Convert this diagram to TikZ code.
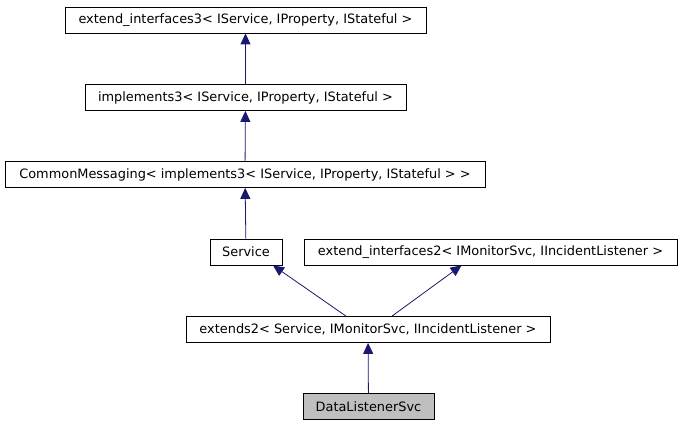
\documentclass[tikz,border=0pt]{standalone}
\usepackage{fontspec}
\setmainfont{DejaVu Sans}
\usetikzlibrary{calc}
\usetikzlibrary{arrows.meta}

\tikzset{
  cls/.style={draw=black, line width=0.8pt, minimum height=26pt, inner sep=0pt, font=\fontsize{12.9}{15}\selectfont},
  edge/.style={draw={rgb,255:red,25;green,25;blue,112}, line width=0.8pt, -{Triangle[length=11pt,width=10pt]}}
}

\begin{document}
\begin{tikzpicture}[x=1pt,y=-1pt]
    \path[use as bounding box] (0,0) rectangle (683,427);
    % Classes.
    \node[cls, minimum width=361pt] (ext3) at (245.5,20) {extend\_interfaces3< IService, IProperty, IStateful >};
    \node[cls, minimum width=321pt] (impl3) at (245.5,97.5) {implements3< IService, IProperty, IStateful >};
    \node[cls, minimum width=480pt] (cmsg) at (245,174.5) {CommonMessaging< implements3< IService, IProperty, IStateful > >};
    \node[cls, minimum width=72pt] (svc) at (246,252) {Service};
    \node[cls, minimum width=373pt] (ext2) at (490.5,252) {extend\_interfaces2< IMonitorSvc, IIncidentListener >};
    \node[cls, minimum width=364pt] (extends) at (368,329.5) {extends2< Service, IMonitorSvc, IIncidentListener >};
    \node[cls, minimum width=131pt, fill={rgb,255:red,191;green,191;blue,191}] (dls) at (368.5,406.5) {DataListenerSvc};
    % Inheritance.
    \draw[edge] (impl3) -- (ext3);
    \draw[edge] (cmsg) -- (impl3);
    \draw[edge] (svc) -- (cmsg);
    \draw[edge] ($ (extends.north) + (-22,0) $) -- ($ (svc.south) + (27,0) $);
    \draw[edge] ($ (extends.north) + (24,0) $) -- ($ (ext2.south) + (-29,0) $);
    \draw[edge] (dls) -- (extends);
  \end{tikzpicture}
\end{document}
